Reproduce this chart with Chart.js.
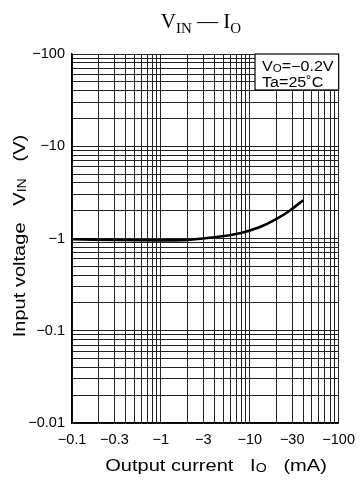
<!DOCTYPE html>
<html>
<head>
<meta charset="utf-8">
<script src="https://cdn.jsdelivr.net/npm/chart.js@4.4.0/dist/chart.umd.min.js"></script>
<style>
  html, body { margin: 0; padding: 0; background: #fff; }
</style>
</head>
<body>
<canvas id="chart" width="363" height="480"></canvas>
<script>
// magnitudes: both axes are negative, plotted as |value| on log scales
const currentMA = [0.1, 0.3, 1, 2, 4, 8, 13, 20, 28, 40];
const inputV    = [0.98, 0.965, 0.955, 0.965, 1.03, 1.15, 1.33, 1.63, 2.0, 2.6];

const xLabelValues = [0.1, 0.3, 1, 3, 10, 30, 100];
const yLabelValues = [0.01, 0.1, 1, 10, 100];

const SANS = '"Liberation Sans", Arial, sans-serif';
const SERIF = '"Liberation Serif", "Times New Roman", serif';

function logGrid(min, max) {
    const out = [];
    for (let e = Math.floor(Math.log10(min)); e <= Math.ceil(Math.log10(max)); e++) {
        for (let m = 1; m <= 9; m++) {
            const v = Number((m * Math.pow(10, e)).toPrecision(3));
            if (v >= min - 1e-12 && v <= max + 1e-12) out.push(v);
        }
    }
    return out;
}

function hasLabel(list, v) {
    return list.some(l => Math.abs(l - v) / l < 1e-6);
}

function fmt(v) {
    return '\u2212' + Number(v.toPrecision(3));
}

// text made of [text, isSub] pieces, stretched horizontally by sx
function partsWidth(ctx, parts, size, family, sx) {
    let w = 0;
    parts.forEach(([t, sub]) => {
        ctx.font = (sub ? Math.round(size * 0.72) : size) + 'px ' + family;
        w += ctx.measureText(t).width;
    });
    return w * sx;
}

function drawParts(ctx, parts, x, y, size, family, sx, subDrop) {
    ctx.save();
    ctx.translate(x, y);
    ctx.scale(sx, 1);
    let cx = 0;
    parts.forEach(([t, sub]) => {
        ctx.font = (sub ? Math.round(size * 0.72) : size) + 'px ' + family;
        ctx.fillText(t, cx, sub ? size * subDrop : 0);
        cx += ctx.measureText(t).width;
    });
    ctx.restore();
}

const annotations = {
    id: 'annotations',
    afterDraw(chart) {
        const ctx = chart.ctx;
        const area = chart.chartArea;
        ctx.save();
        ctx.fillStyle = '#000';
        ctx.textAlign = 'left';
        ctx.textBaseline = 'alphabetic';

        // heading
        const head = [['V', false], ['IN', true], [' \u2014 I', false], ['O', true]];
        let w = partsWidth(ctx, head, 21, SERIF, 1);
        drawParts(ctx, head, 201 - w / 2, 28, 21, SERIF, 1, 0.22);

        // x title
        const xt = [['Output current   I', false], ['O', true], ['   (mA)', false]];
        w = partsWidth(ctx, xt, 17, SANS, 1.18);
        drawParts(ctx, xt, 216 - w / 2, 471, 17, SANS, 1.18, 0.08);

        // y title
        const yt = [['Input voltage   V', false], ['IN', true], ['   (V)', false]];
        ctx.save();
        ctx.translate(25, 236);
        ctx.rotate(-Math.PI / 2);
        w = partsWidth(ctx, yt, 17, SANS, 1.18);
        drawParts(ctx, yt, -w / 2, 0, 17, SANS, 1.18, 0.08);
        ctx.restore();

        // condition box
        const bx = 255, by = area.top, bw = area.right - 255, bh = 36;
        ctx.fillStyle = '#fff';
        ctx.fillRect(bx, by, bw, bh);
        ctx.strokeStyle = '#000';
        ctx.lineWidth = 1.2;
        ctx.strokeRect(bx, by, bw, bh);
        ctx.fillStyle = '#000';
        drawParts(ctx, [['V', false], ['O', true], ['=\u22120.2V', false]], 262, by + 17, 14, SANS, 1.15, 0.05);
        drawParts(ctx, [['Ta=25\u02DAC', false]], 262, by + 33, 14, SANS, 1.15, 0);
        ctx.restore();
    }
};

new Chart(document.getElementById('chart'), {
    type: 'scatter',
    data: {
        datasets: [{
            data: currentMA.map((x, i) => ({ x: x, y: inputV[i] })),
            showLine: true,
            borderColor: '#000',
            borderWidth: 2.6,
            pointRadius: 0,
            tension: 0.35
        }]
    },
    options: {
        responsive: false,
        animation: false,
        layout: { padding: { top: 54, right: 20, left: 0, bottom: 0 } },
        plugins: { legend: { display: false }, tooltip: { enabled: false } },
        scales: {
            x: {
                type: 'logarithmic',
                min: 0.1,
                max: 100,
                afterBuildTicks: s => { s.ticks = logGrid(0.1, 100).map(v => ({ value: v })); },
                afterFit: s => { s.height = 57; },
                grid: { color: '#222', lineWidth: 1, drawTicks: false },
                border: { color: '#000', width: 1.5 },
                ticks: {
                    autoSkip: false,
                    maxRotation: 0,
                    padding: 8,
                    color: '#000',
                    font: { family: SANS, size: 14.5 },
                    callback: v => hasLabel(xLabelValues, v) ? fmt(v) : ''
                }
            },
            y: {
                type: 'logarithmic',
                min: 0.01,
                max: 100,
                afterBuildTicks: s => { s.ticks = logGrid(0.01, 100).map(v => ({ value: v })); },
                afterFit: s => { s.width = 72; },
                grid: { color: '#222', lineWidth: 1, drawTicks: false },
                border: { color: '#000', width: 1.5 },
                ticks: {
                    autoSkip: false,
                    padding: 7,
                    color: '#000',
                    font: { family: SANS, size: 14.5 },
                    callback: v => hasLabel(yLabelValues, v) ? fmt(v) : ''
                }
            }
        }
    },
    plugins: [annotations]
});
</script>
</body>
</html>
